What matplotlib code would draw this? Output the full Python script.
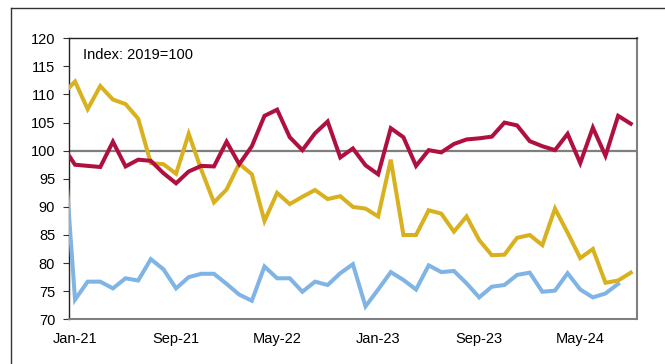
import numpy as np
import matplotlib.pyplot as plt
from matplotlib.lines import Line2D

plt.rcParams['font.family'] = ['Liberation Sans', 'DejaVu Sans']

# Monthly index, Dec-20 .. Sep-24 (Dec-20 sits just outside the left edge)
red_vals = [100.9,
            97.5, 97.3, 97.1, 101.6, 97.2, 98.4, 98.2, 96.0, 94.2, 96.3, 97.3, 97.2,
            101.6, 97.6, 100.8, 106.2, 107.3, 102.4, 100.1, 103.1, 105.2, 98.8, 100.4, 97.4,
            95.8, 104.0, 102.4, 97.3, 100.1, 99.7, 101.2, 102.0, 102.2, 102.5, 105.0, 104.5,
            101.7, 100.8, 100.1, 103.0, 97.8, 104.1, 99.1, 106.2, 104.8]
gold_vals = [110.0,
             112.3, 107.4, 111.5, 109.1, 108.3, 105.7, 97.8, 97.6, 95.9, 103.0, 96.6, 90.8,
             93.1, 97.7, 95.8, 87.5, 92.5, 90.5, 91.8, 93.0, 91.4, 91.9, 90.0, 89.7,
             88.3, 98.4, 85.0, 85.0, 89.4, 88.8, 85.6, 88.3, 84.1, 81.4, 81.5, 84.5,
             85.0, 83.2, 89.7, 85.4, 80.9, 82.5, 76.5, 76.9, 78.3]
blue_vals = [105.0,
             73.5, 76.7, 76.7, 75.5, 77.3, 76.9, 80.7, 78.9, 75.5, 77.5, 78.1, 78.1,
             76.3, 74.4, 73.3, 79.4, 77.3, 77.3, 74.9, 76.7, 76.1, 78.2, 79.8, 72.3,
             75.3, 78.4, 77.0, 75.3, 79.6, 78.4, 78.6, 76.4, 73.9, 75.8, 76.1, 77.9,
             78.3, 74.9, 75.1, 78.2, 75.3, 73.9, 74.6, 76.3]

tick_pos = [0, 8, 16, 24, 32, 40]
tick_labels = ['Jan-21', 'Sep-21', 'May-22', 'Jan-23', 'Sep-23', 'May-24']

fig = plt.figure(figsize=(6.65, 3.64), dpi=100)
ax = fig.add_axes([0.1038, 0.1228, 0.958 - 0.1038, 0.8948 - 0.1228])

# outer frame of the panel
fx, fy = 11 / 665, 1 - 8 / 364
fig.add_artist(Line2D([fx, fx], [0, fy], color='#333333', lw=1.0, transform=fig.transFigure))
fig.add_artist(Line2D([fx, 1], [fy, fy], color='#333333', lw=1.0, transform=fig.transFigure))

ax.axhline(100, color='#7f7f7f', lw=1.6, zorder=1)

x_red = np.arange(len(red_vals)) - 1
x_gold = np.arange(len(gold_vals)) - 1
x_blue = np.arange(len(blue_vals)) - 1
ax.plot(x_blue, blue_vals, color='#7fb4e5', lw=2.9, solid_joinstyle='miter', zorder=3)
ax.plot(x_gold, gold_vals, color='#d9b11e', lw=2.9, solid_joinstyle='miter', zorder=3)
ax.plot(x_red, red_vals, color='#b0103f', lw=2.9, solid_joinstyle='miter', zorder=3)

ax.set_xlim(-0.475, 44.5)
ax.set_ylim(70, 120)
ax.set_yticks(np.arange(70, 121, 5))
ax.set_xticks(tick_pos)
ax.set_xticklabels(tick_labels)
ax.tick_params(axis='y', length=4, width=0.8, pad=6, labelsize=10.5, color='#333333')
ax.tick_params(axis='x', length=0, pad=9, labelsize=10.5)

for side in ['left', 'top']:
    ax.spines[side].set_color('#222222')
    ax.spines[side].set_linewidth(1.0)
for side in ['right', 'bottom']:
    ax.spines[side].set_color('#7f7f7f')
    ax.spines[side].set_linewidth(1.5)

ax.text(0.025, 0.965, 'Index: 2019=100', transform=ax.transAxes,
        fontsize=10.5, va='top', ha='left')

fig.savefig('out.png', dpi=100)
